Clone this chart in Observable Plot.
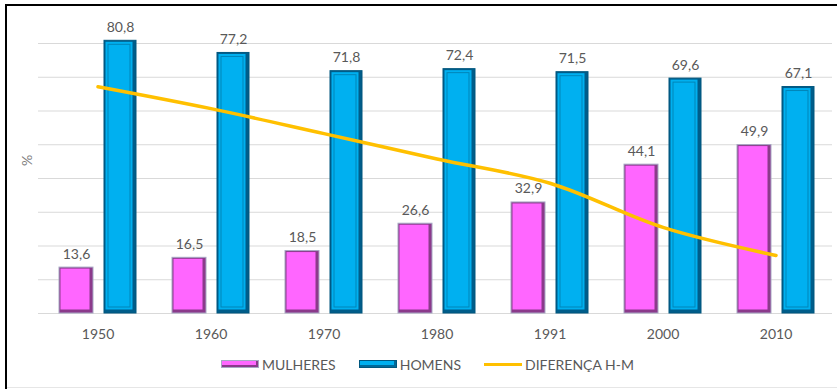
<!DOCTYPE html>
<html>
<head>
<meta charset="utf-8">
<script src="https://cdn.jsdelivr.net/npm/d3@7"></script>
<script src="https://cdn.jsdelivr.net/npm/@observablehq/plot@0.6"></script>
<style>
  html, body { margin: 0; padding: 0; background: #fff; }
  #wrap { position: relative; width: 837px; height: 389px; overflow: hidden; font-family: Lato, "Open Sans", sans-serif; }
  #frame { position: absolute; left: 5px; top: 4px; right: -2px; bottom: -2px; border-top: 2px solid #000; border-left: 2px solid #000; pointer-events: none; }
  #bottomline { position: absolute; left: 7px; right: 0; top: 387px; height: 1px; background: #e6e6e6; }
  #chart { position: absolute; left: 0; top: 0; }
  #legend { position: absolute; top: 356px; left: 221px; height: 16px; display: flex; align-items: center; color: #595959; font-size: 14px; }
  .item { display: flex; align-items: center; margin-right: 23px; }
  .sw { width: 38px; margin-right: 3px; }
  .sw.pink { height: 8px; background: #ff66ff; box-sizing: border-box; border: 1px solid #a7a7c4; box-shadow: inset -2px -2px 0 #8b3a8b; }
  .sw.blue { height: 8px; background: #00b0f0; box-sizing: border-box; border: 1px solid #00577f; box-shadow: inset -2px -2px 0 #006a9a; }
  .sw.gold { height: 3px; background: #ffc000; }
</style>
</head>
<body>
<div id="wrap">
  <div id="chart"></div>
  <div id="legend">
    <div class="item"><div class="sw pink"></div><span>MULHERES</span></div>
    <div class="item"><div class="sw blue"></div><span>HOMENS</span></div>
    <div class="item"><div class="sw gold"></div><span>DIFERENÇA H-M</span></div>
  </div>
  <div id="bottomline"></div>
  <div id="frame"></div>
</div>
<script>
const years = ["1950", "1960", "1970", "1980", "1991", "2000", "2010"];
const mulheres = [13.6, 16.5, 18.5, 26.6, 32.9, 44.1, 49.9];
const homens = [80.8, 77.2, 71.8, 72.4, 71.5, 69.6, 67.1];
const diferenca = [67.2, 60.7, 53.3, 45.8, 38.6, 25.5, 17.2];
const yTicks = [0, 10, 20, 30, 40, 50, 60, 70, 80];

const data = years.map((year, i) => ({year, mulheres: mulheres[i], homens: homens[i], diferenca: diferenca[i]}));
const fmt = v => v.toFixed(1).replace(".", ",");

const chart = Plot.plot({
  width: 837,
  height: 348,
  marginLeft: 38,
  marginRight: 5,
  marginTop: 43,
  marginBottom: 35,
  style: {fontFamily: "Lato, 'Open Sans', sans-serif", fontSize: "14px", color: "#595959", background: "transparent", overflow: "visible"},
  x: {type: "band", domain: years, paddingInner: 0.3148, paddingOuter: 0.145, align: 0.545, label: null},
  y: {domain: [0, 80], label: null, axis: null},
  marks: [
    Plot.gridY(yTicks, {stroke: "#d9d9d9", strokeOpacity: 1}),
    // mulheres bars (bevel look)
    Plot.barY(data, {x: "year", y: "mulheres", insetRight: 43, fill: "#8b3a8b", stroke: "#a7a7c4", strokeWidth: 1}),
    Plot.barY(data, {x: "year", y: "mulheres", insetLeft: 1.5, insetRight: 46.5, insetTop: 1.5, insetBottom: 3.5, fill: "#ff66ff"}),
    // homens bars
    Plot.barY(data, {x: "year", y: "homens", insetLeft: 45, fill: "#005d8a", stroke: "#00577f", strokeWidth: 1}),
    Plot.barY(data, {x: "year", y: "homens", insetLeft: 46.5, insetRight: 3.5, insetTop: 1.5, insetBottom: 3.5, fill: "#00b0f0"}),
    Plot.barY(data, {x: "year", y: "homens", insetLeft: 49, insetRight: 6, insetTop: 4, insetBottom: 6, fill: "none", stroke: "#0085b8", strokeWidth: 1}),
    // difference line
    Plot.line(data, {x: "year", y: "diferenca", stroke: "#ffc000", strokeWidth: 3.5, curve: "catmull-rom"}),
    // value labels
    Plot.text(data, {x: "year", y: "mulheres", text: d => fmt(d.mulheres), dx: -21.5, dy: -9, lineAnchor: "bottom", fill: "#595959"}),
    Plot.text(data, {x: "year", y: "homens", text: d => fmt(d.homens), dx: 22.5, dy: -9, lineAnchor: "bottom", fill: "#595959"}),
    Plot.axisX({tickSize: 0, tickPadding: 16, fill: "#595959", label: null}),
    Plot.text(["%"], {frameAnchor: "left", rotate: -90, dx: -11, dy: -18, textAnchor: "middle", fill: "#7f7f7f"})
  ]
});
document.getElementById("chart").appendChild(chart);
</script>
</body>
</html>
